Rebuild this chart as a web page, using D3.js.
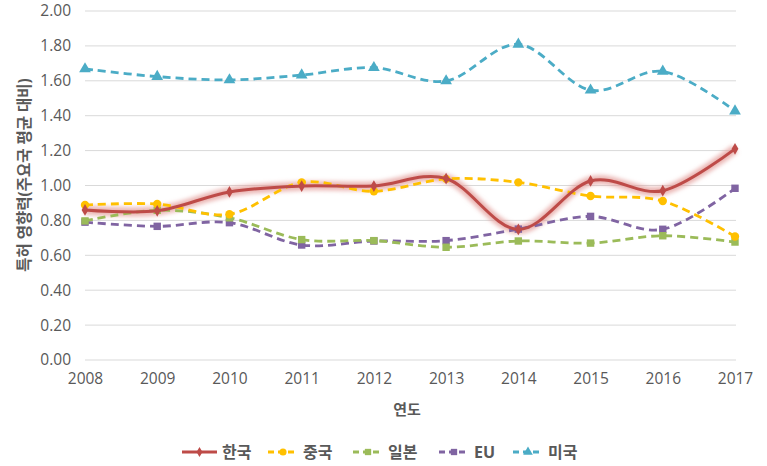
<!DOCTYPE html>
<html><head><meta charset="utf-8">
<script src="https://cdn.jsdelivr.net/npm/d3@7"></script>
<style>
html,body{margin:0;padding:0;background:#fff;}
svg text{font-family:"Open Sans","Noto Sans CJK KR",sans-serif;}
</style></head>
<body><svg id="c" width="767" height="466"></svg>
<script>
const years = ["2008","2009","2010","2011","2012","2013","2014","2015","2016","2017"];
const yTicks = [0,0.2,0.4,0.6,0.8,1.0,1.2,1.4,1.6,1.8,2.0];
const korea = [0.86,0.855,0.963,0.997,0.997,1.04,0.748,1.026,0.97,1.21];
const china = [0.888,0.894,0.835,1.018,0.967,1.038,1.018,0.94,0.911,0.708];
const japan = [0.797,0.858,0.815,0.69,0.684,0.646,0.682,0.67,0.712,0.676];
const eu    = [0.79,0.766,0.787,0.659,0.682,0.684,0.75,0.823,0.749,0.984];
const usa   = [1.668,1.624,1.605,1.633,1.675,1.599,1.809,1.546,1.654,1.427];
const seriesNames = ["한국","중국","일본","EU","미국"];
const seriesColors = ["#BE4B48","#FFC000","#9BBB59","#8064A2","#4BACC6"];
const seriesShapes = [d3.symbolDiamond, d3.symbolCircle, d3.symbolSquare, d3.symbolSquare, d3.symbolTriangle];
const seriesData = [korea, china, japan, eu, usa];

const svg = d3.select("#c");
const x = d3.scalePoint().domain(years).range([85,735]);
const y = d3.scaleLinear().domain([0,2]).range([360,11]);

const defs = svg.append("defs");
defs.append("filter").attr("id","glow").attr("x","-10%").attr("y","-50%").attr("width","120%").attr("height","200%")
  .append("feGaussianBlur").attr("stdDeviation",2.2);

// grid
svg.append("g").selectAll("line").data(yTicks).join("line")
  .attr("x1",85).attr("x2",736).attr("y1",d=>y(d)).attr("y2",d=>y(d))
  .attr("stroke","#D9D9D9").attr("stroke-width",1);

// y axis
const ya = svg.append("g").attr("transform","translate(85,0)")
  .call(d3.axisLeft(y).tickValues(yTicks).tickFormat(d3.format(".2f")).tickSize(0).tickPadding(14));
ya.select(".domain").remove();
ya.selectAll("text").attr("font-size","15.5px").attr("fill","#595959").style("font-family","'Open Sans',sans-serif");

// x axis
const xa = svg.append("g").attr("transform","translate(0,360)")
  .call(d3.axisBottom(x).tickSize(0).tickPadding(13));
xa.select(".domain").remove();
xa.selectAll("text").attr("font-size","15.5px").attr("fill","#595959").style("font-family","'Open Sans',sans-serif");

// titles
svg.append("text").attr("x",407).attr("y",410).attr("dy","0.35em").attr("text-anchor","middle")
  .attr("font-size","15px").attr("font-weight","bold").attr("fill","#595959").text("연도");
svg.append("text").attr("transform","translate(25,175) rotate(-90)").attr("dy","0.35em").attr("text-anchor","middle")
  .attr("font-size","15.5px").attr("font-weight","bold").attr("fill","#595959").text("특허 영향력(주요국 평균 대비)");

const line = d3.line().x((d,i)=>x(years[i])).y(d=>y(d)).curve(d3.curveCatmullRom.alpha(0));

// glow for Korea
svg.append("path").attr("d",line(korea)).attr("fill","none")
  .attr("stroke","#E39C9A").attr("stroke-width",9).attr("stroke-opacity",0.75)
  .attr("filter","url(#glow)");

// draw series back to front (usa, eu, japan, china, korea)
[4,3,2,1,0].forEach(k=>{
  const g = svg.append("g");
  g.append("path").attr("d",line(seriesData[k])).attr("fill","none")
    .attr("stroke",seriesColors[k]).attr("stroke-width",k===0?3:2.8)
    .attr("stroke-dasharray",k===0?null:"8,5").attr("stroke-linecap","butt");
  const sz = [40,55,55,55,60][k];
  g.selectAll("path.m").data(seriesData[k]).join("path").attr("class","m")
    .attr("d",d3.symbol().type(seriesShapes[k]).size(sz))
    .attr("transform",(d,i)=>`translate(${x(years[i])},${y(d)})`)
    .attr("fill",seriesColors[k]);
});

// legend
const legX = [182,268,353,439,513];
const lg = svg.append("g");
seriesNames.forEach((n,k)=>{
  const x0 = legX[k], len = k===0?35:30, yy=452;
  const gg = lg.append("g");
  gg.append("line").attr("x1",x0).attr("x2",x0+len).attr("y1",yy).attr("y2",yy)
    .attr("stroke",seriesColors[k]).attr("stroke-width",3).attr("stroke-dasharray",k===0?null:"6,4");
  gg.append("path").attr("d",d3.symbol().type(seriesShapes[k]).size(k===0?30:40)())
    .attr("transform",`translate(${x0+len/2},${yy})`).attr("fill",seriesColors[k]);
  gg.append("text").attr("x",x0+len+5).attr("y",yy).attr("dy","0.35em")
    .attr("font-size","16px").attr("font-weight","bold").attr("fill","#595959").text(n);
});
</script></body></html>
